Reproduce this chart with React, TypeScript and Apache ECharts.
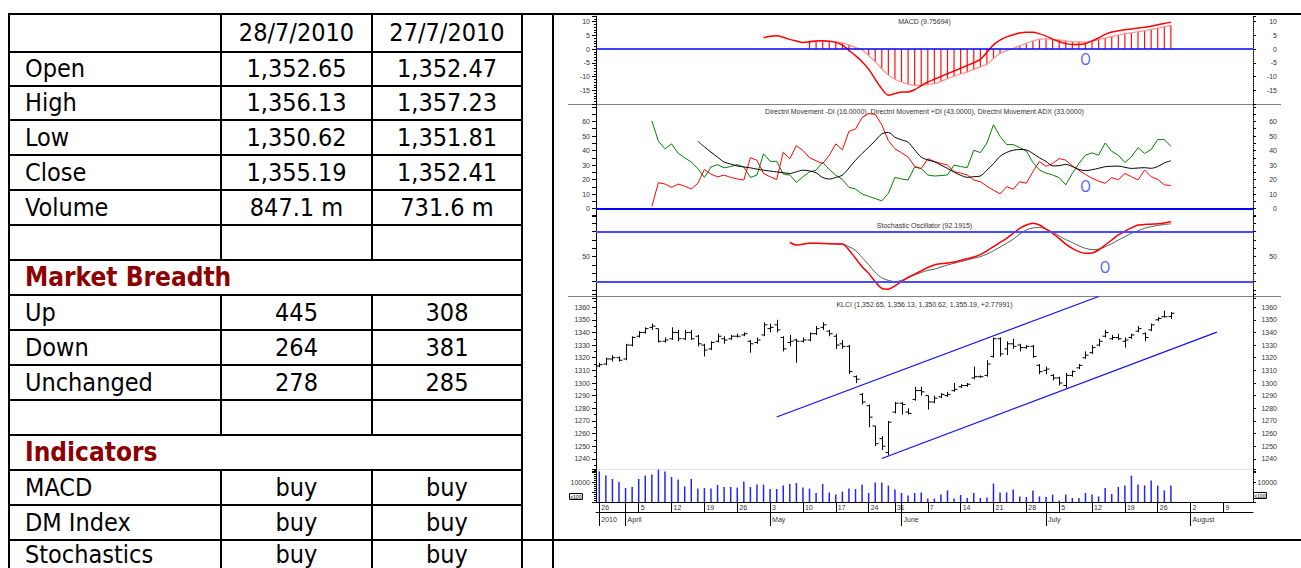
import React, { useEffect, useRef } from "react";
import * as echarts from "echarts";

// ---------- trading days (category axis) ----------
const DATES = [
  "3/26", "3/29", "3/30", "3/31",
  "4/1", "4/2", "4/5", "4/6", "4/7", "4/8", "4/9", "4/12", "4/13", "4/14", "4/15", "4/16", "4/19", "4/20", "4/21", "4/22", "4/23", "4/26", "4/27", "4/28", "4/29", "4/30",
  "5/3", "5/4", "5/5", "5/6", "5/7", "5/10", "5/11", "5/12", "5/13", "5/14", "5/17", "5/18", "5/19", "5/20", "5/21", "5/24", "5/25", "5/26", "5/27", "5/31",
  "6/1", "6/2", "6/3", "6/4", "6/7", "6/8", "6/9", "6/10", "6/11", "6/14", "6/15", "6/16", "6/17", "6/18", "6/21", "6/22", "6/23", "6/24", "6/25", "6/28", "6/29", "6/30",
  "7/1", "7/2", "7/5", "7/6", "7/7", "7/8", "7/9", "7/12", "7/13", "7/14", "7/15", "7/16", "7/19", "7/20", "7/21", "7/22", "7/23", "7/26", "7/27", "7/28", "7/29", "7/30",
  "8/2", "8/3", "8/4", "8/5", "8/6", "8/9", "8/10", "8/11", "8/12", "8/13",
];
const YEAR_LABEL = "2010";
const MONTH_NAMES: Record<number, string> = { 3: "March", 4: "April", 5: "May", 6: "June", 7: "July", 8: "August" };

// ---------- KLCI OHLC ----------
const OPEN = [1313.5, 1315, 1319, 1320, 1319, 1330, 1337, 1340, 1344, 1343, 1333, 1335, 1340, 1335, 1340, 1337, 1330, 1327, 1333, 1335, 1335, 1337, 1338, 1333, 1332, 1338, 1343, 1346, 1336, 1332, 1334, 1333, 1334, 1339, 1344, 1341, 1337, 1331, 1329, 1305, 1291, 1282, 1266, 1256, 1245, 1277, 1284, 1277, 1287, 1294, 1290, 1285, 1289, 1290, 1294, 1297, 1298, 1304, 1305, 1306, 1321, 1335, 1327, 1331, 1330, 1328, 1329, 1314, 1310, 1306, 1304, 1298, 1306, 1312, 1320, 1324, 1330, 1337, 1335, 1336, 1333, 1336, 1341, 1339, 1342, 1350, 1352.47, 1352.65];
const HIGH = [1316, 1320, 1322, 1321, 1331, 1337, 1341, 1344, 1347, 1343, 1336, 1344, 1342, 1342, 1342, 1338, 1331, 1333, 1339, 1337, 1338, 1339, 1340, 1334, 1336, 1348, 1347, 1350, 1337, 1338, 1335, 1336, 1340, 1345, 1348, 1342, 1339, 1334, 1330, 1306, 1292, 1283, 1266, 1258, 1270, 1285, 1285, 1280, 1297, 1297, 1290, 1290, 1292, 1293, 1300, 1299, 1300, 1313, 1306, 1318, 1336, 1336, 1333, 1335, 1331, 1330, 1330, 1315, 1313, 1307, 1305, 1308, 1310, 1315, 1325, 1330, 1335, 1342, 1338, 1339, 1336, 1339, 1345, 1340, 1347, 1352, 1357.23, 1356.13];
const LOW = [1312.5, 1314, 1317, 1317, 1318, 1329, 1336, 1339, 1342, 1332, 1332, 1334, 1333, 1334, 1334, 1329, 1321, 1326, 1332, 1331, 1334, 1336, 1337, 1324, 1331, 1337, 1340, 1340, 1325, 1329, 1316, 1332, 1333, 1338, 1342, 1337, 1327, 1327, 1307, 1300, 1283, 1265, 1250, 1247, 1243, 1276, 1275, 1275, 1286, 1290, 1279, 1284, 1288, 1289, 1293, 1296, 1297, 1303, 1304, 1305, 1320, 1321, 1322, 1327, 1325, 1327, 1320, 1307, 1307, 1302, 1298, 1296, 1305, 1311, 1319, 1323, 1329, 1336, 1334, 1334, 1328, 1335, 1340, 1333, 1341, 1349, 1351.81, 1350.62];
const CLOSE = [1314.5, 1319, 1320, 1318, 1330, 1336, 1340, 1343, 1345, 1333, 1334, 1340, 1335, 1340, 1335, 1331, 1326, 1332, 1337, 1334, 1337, 1337, 1339, 1331, 1334, 1346, 1344, 1342, 1327, 1333, 1333, 1334, 1339, 1343, 1346, 1339, 1330, 1329, 1309, 1303, 1285, 1273, 1252, 1250, 1269, 1284, 1283, 1276, 1294, 1293, 1285, 1288, 1291, 1291, 1295, 1298, 1299, 1305, 1305, 1315, 1335, 1323, 1331, 1329, 1328, 1329, 1321, 1309, 1311, 1304, 1300, 1306, 1309, 1314, 1322, 1328, 1333, 1340, 1336, 1335, 1334, 1338, 1343, 1336, 1346, 1351, 1352.41, 1355.19];
const VOLUME = [15300, 13300, 11500, 10000, 7000, 7500, 11500, 13200, 13700, 16200, 15300, 12500, 11200, 7800, 11500, 6700, 7000, 6700, 8500, 7500, 7500, 7200, 10200, 7500, 8800, 8700, 6500, 6500, 8300, 9000, 9500, 7200, 6700, 4500, 9000, 4800, 3800, 5200, 6700, 6500, 8700, 4500, 9700, 9700, 8200, 6200, 4500, 3200, 4500, 4800, 1700, 1700, 3700, 5800, 1700, 3500, 2000, 4500, 2000, 2200, 9200, 4800, 4800, 6200, 2800, 2500, 5800, 2800, 2500, 3700, 800, 3700, 2000, 2000, 4500, 3700, 2800, 7000, 4000, 7500, 8200, 13200, 8700, 8300, 10700, 8200, 5800, 8200];

// ---------- MACD ----------
const MACD_START = 25;
const MACD_LINE = [4.1, 4.6, 4.8, 4.3, 3.5, 2.9, 2.4, 2.6, 2.9, 3.0, 2.8, 2.4, 1.4, -0.5, -2.4, -4.6, -7.3, -11, -14.5, -16.8, -16.2, -15.6, -15.6, -14.8, -13.3, -12, -11, -10, -9, -8, -7, -6, -5, -3.8, -1.2, 1.5, 3.2, 4.4, 5.2, 5.8, 6.1, 6.1, 5.5, 4.7, 3.6, 2.7, 2.0, 1.6, 1.6, 2.0, 2.9, 4.0, 5.3, 6.2, 6.6, 7.0, 7.3, 7.6, 7.9, 8.3, 8.8, 9.3, 9.76];
const SIGNAL_START = 32;
const MACD_SIGNAL = [3.0, 3.0, 2.9, 2.8, 2.7, 2.2, 1.5, 0.6, -0.4, -2.4, -4.6, -7.2, -9.5, -11, -12, -12.8, -13.2, -13.2, -13, -12.6, -11.8, -10.8, -9.9, -9.1, -8.4, -7.4, -6.5, -5.5, -3.5, -1.6, -0.6, 0.2, 1.2, 2.1, 2.9, 3.6, 3.7, 3.5, 3.3, 3.0, 2.7, 2.6, 2.5, 2.8, 3.4, 4.0, 4.5, 5.1, 5.6, 5.9, 6.3, 6.7, 7.1, 7.6, 8.1, 8.6];

// ---------- Directional movement ----------
const DI_START = 8;
const PLUS_DI = [60.4, 46.4, 41.2, 44.6, 38.2, 35, 32.1, 27.6, 21.5, 28.7, 30.3, 28.1, 29, 30.3, 28.7, 21.5, 23.1, 37.8, 32.6, 32.6, 23.8, 23.1, 18.1, 22, 25.3, 26.5, 32.1, 27, 23.1, 20.1, 14.7, 13.6, 10.2, 8.5, 7, 5.4, 10.6, 21.5, 20.5, 19.7, 28.7, 27.6, 23.2, 22.5, 22.8, 23.2, 30, 29, 28.2, 40.2, 38.6, 45.2, 57.7, 49.8, 44.1, 44.1, 42, 39.8, 31.8, 26.6, 24.5, 23.2, 21.4, 16.4, 24.3, 31.1, 36.8, 38.4, 36.8, 45.2, 39.5, 36.8, 31.8, 35.7, 42, 38, 40.7, 47.5, 47.5, 43];
const MINUS_DI = [1.6, 17.9, 17, 14.7, 17, 15.5, 13.6, 17.4, 26.9, 23.8, 21.9, 23.1, 21.5, 20.5, 19.7, 35.1, 33.3, 24.2, 22, 20.1, 38.9, 34.4, 43.4, 40, 35.1, 33, 31, 36.7, 44.6, 40.5, 53.2, 54.8, 62.7, 65.4, 64.9, 57.7, 46.8, 41.2, 38.5, 35.5, 29.2, 27.6, 34.4, 32.5, 31.1, 30, 25.5, 24.5, 23.2, 19.8, 18.6, 15.5, 12.8, 10.2, 15.2, 13.4, 18.6, 17.5, 25.5, 32.5, 29.1, 31.1, 34.5, 33.4, 29.5, 26.6, 23.5, 21, 19, 17.5, 21.4, 19.8, 24.3, 22, 19.8, 26.6, 22, 20.2, 16.4, 16];
const ADX_START = 15;
const ADX = [46.4, 42.5, 38.9, 35.5, 32.1, 30.7, 29.4, 28.7, 28.1, 27.2, 26.5, 25.9, 25.3, 24.8, 24.2, 25.4, 26.5, 26, 24.7, 21.5, 20.4, 21.5, 23.1, 28, 33.3, 38, 42.3, 46.8, 51.4, 52.5, 49.1, 47.4, 45.7, 40.5, 35.5, 33.5, 32.3, 30, 27.7, 25.2, 23, 21.6, 22, 22.5, 26.5, 31, 36, 38.7, 40.2, 40.7, 40.4, 38, 35, 32.5, 29.5, 29.6, 30.5, 29, 27, 26.2, 26.8, 27.8, 28.9, 29.2, 29.3, 28.5, 27.7, 28, 28.2, 27.8, 29, 31.5, 33];

// ---------- Stochastic ----------
const K_START = 29;
const STOCH_K = [67.3, 64, 65, 66, 66, 65.8, 65.5, 65.3, 65.2, 58, 48, 38, 30, 20, 12, 11, 15, 20, 25, 29, 33, 37, 40, 41.5, 42.5, 43.5, 45.5, 47.5, 49.5, 52.5, 57, 62, 67, 72, 78, 84, 88, 90, 88, 83, 78, 72, 65, 60, 56, 54, 54.5, 58, 64, 70, 76, 80.5, 84.5, 88, 88.5, 89, 89.5, 90.5, 92.19];
const D_START = 31;
const STOCH_D = [65.5, 66, 66, 65.8, 65.6, 65.4, 65.2, 62, 57.5, 49, 40.5, 31, 24.5, 21.5, 20, 21.5, 24.5, 28, 31, 33.5, 35, 37.5, 40, 42, 44, 46, 48, 50, 53, 57, 61.5, 66, 71, 77, 82, 84.5, 85, 83, 79.5, 75, 70.5, 67, 63, 60, 58.5, 59, 62, 65.5, 70, 74, 78, 81, 84, 86, 87.5, 88.5, 89.5];
const STOCH_BANDS = [80, 20];

// ---------- trend channel & marks ----------
const UPPER_CHANNEL = [[27, 1273.1], [76, 1368.4]];
const LOWER_CHANNEL = [[43, 1240.3], [94, 1340.2]];
const MACD_MARK = [[74, -4]];
const DMI_MARK = [[74, 14.7]];
const STOCH_MARK = [[77, 36]];

// ---------- panel captions ----------
const TITLE_MACD = "MACD (9.75694)";
const TITLE_DMI = "Directnl Movement -DI (16.0000), Directnl Movement +DI (43.0000), Directnl Movement ADX (33.0000)";
const TITLE_STOCH = "Stochastic Oscillator (92.1915)";
const TITLE_KLCI = "KLCI (1,352.65, 1,356.13, 1,350.62, 1,355.19, +2.77991)";

// ---------- table ----------
const TABLE_HEAD = ["", "28/7/2010", "27/7/2010"];
const PRICE_ROWS = [
  ["Open", "1,352.65", "1,352.47"],
  ["High", "1,356.13", "1,357.23"],
  ["Low", "1,350.62", "1,351.81"],
  ["Close", "1,355.19", "1,352.41"],
  ["Volume", "847.1 m", "731.6 m"],
];
const BREADTH_TITLE = "Market Breadth";
const BREADTH_ROWS = [
  ["Up", "445", "308"],
  ["Down", "264", "381"],
  ["Unchanged", "278", "285"],
];
const INDICATOR_TITLE = "Indicators";
const INDICATOR_ROWS = [
  ["MACD", "buy", "buy"],
  ["DM Index", "buy", "buy"],
  ["Stochastics", "buy", "buy"],
];

// ---------- layout ----------
const W = 1301;
const H = 568;
const ROW_Y = [14, 52, 86, 120, 155, 190, 225, 260, 295, 330, 365, 400, 435, 470, 505, 540, 575];
const COL_X = [9, 221, 372, 522, 553];
const TABLE_FONT = "'DejaVu Sans Condensed', 'DejaVu Sans', sans-serif";
const SMALL_FONT = "'Liberation Sans', Arial, sans-serif";
const GRID_LEFT = 596;
const GRID_RIGHT = W - 1253;

const parseMD = (s: string) => s.split("/").map(Number);
const isMonday = (i: number) => {
  const [m, d] = parseMD(DATES[i]);
  return new Date(2010, m - 1, d).getDay() === 1;
};
const isMonthStart = (i: number) => i === 0 || parseMD(DATES[i])[0] !== parseMD(DATES[i - 1])[0];
// weekly marks: the first day, then every Monday that is not crowded against it
const isWeekMark = (i: number) => i === 0 || (isMonday(i) && i >= 3);
const seq = (start: number, arr: number[]) => arr.map((v, k) => [start + k, v]);

function buildTable(): any[] {
  const els: any[] = [];
  const line = (x1: number, y1: number, x2: number, y2: number) =>
    els.push({ type: "line", silent: true, shape: { x1, y1, x2, y2 }, style: { stroke: "#000", lineWidth: 2 } });
  for (let r = 0; r <= 15; r++) line(COL_X[0] - 1, ROW_Y[r], COL_X[3], ROW_Y[r]);
  line(COL_X[3], ROW_Y[0], W, ROW_Y[0]);
  line(COL_X[3], ROW_Y[15], W, ROW_Y[15]);
  [COL_X[0], COL_X[3], COL_X[4]].forEach((x) => line(x, ROW_Y[0] - 1, x, H));
  [COL_X[1], COL_X[2]].forEach((x) => {
    line(x, ROW_Y[0], x, ROW_Y[7]);
    line(x, ROW_Y[8], x, ROW_Y[12]);
    line(x, ROW_Y[13], x, H);
  });
  const rowMid = (row: number) => (row === 15 ? 554 : (ROW_Y[row] + ROW_Y[row + 1]) / 2 - 0.5);
  const txt = (text: string, x: number, row: number, align: string, bold = false, color = "#000") =>
    els.push({
      type: "text",
      silent: true,
      x,
      y: rowMid(row),
      style: {
        text,
        fill: color,
        fontSize: bold ? 26 : 25,
        fontFamily: TABLE_FONT,
        fontWeight: bold ? "bold" : "normal",
        align,
        verticalAlign: "middle",
      },
    });
  const c1 = (COL_X[1] + COL_X[2]) / 2;
  const c2 = (COL_X[2] + COL_X[3]) / 2;
  const putRow = (row: number, vals: string[]) => {
    if (vals[0]) txt(vals[0], 25, row, "left");
    txt(vals[1], c1, row, "center");
    txt(vals[2], c2, row, "center");
  };
  putRow(0, TABLE_HEAD);
  PRICE_ROWS.forEach((r, k) => putRow(1 + k, r));
  txt(BREADTH_TITLE, 25, 7, "left", true, "#8c0000");
  BREADTH_ROWS.forEach((r, k) => putRow(8 + k, r));
  txt(INDICATOR_TITLE, 25, 12, "left", true, "#8c0000");
  INDICATOR_ROWS.forEach((r, k) => putRow(13 + k, r));
  return els;
}

function buildChartDecor(): any[] {
  const center = (GRID_LEFT + (W - GRID_RIGHT)) / 2;
  const cap = (text: string, y: number) => ({
    type: "text",
    silent: true,
    x: center,
    y,
    style: { text, fill: "#333", fontSize: 7, fontFamily: SMALL_FONT, align: "center", verticalAlign: "middle" },
  });
  const sep = (y: number, x1: number, x2: number, color: string) => ({
    type: "line",
    silent: true,
    shape: { x1, y1: y, x2, y2: y },
    style: { stroke: color, lineWidth: 1 },
  });
  const box = (x: number, y: number) => ({
    type: "text",
    silent: true,
    x,
    y,
    style: {
      text: "x100",
      fill: "#000",
      fontSize: 5,
      fontFamily: SMALL_FONT,
      align: "center",
      verticalAlign: "middle",
      borderColor: "#000",
      borderWidth: 1,
      padding: [1, 1, 0, 1],
    },
  });
  return [
    sep(104.5, 568, 1281, "#808080"),
    sep(296.5, 568, 1281, "#808080"),
    sep(469.5, GRID_LEFT, W - GRID_RIGHT, "#e2e2e2"),
    cap(TITLE_MACD, 21.5),
    cap(TITLE_DMI, 111),
    cap(TITLE_STOCH, 225),
    cap(TITLE_KLCI, 304),
    box(576, 496.5),
    box(1260, 495.5),
  ];
}

const LBL = { fontSize: 7, fontFamily: SMALL_FONT, color: "#333" };

function yPair(gridIndex: number, min: number, max: number, interval: number, show: (v: number) => boolean, minor: number) {
  const fmt = (v: number) => {
    const r = Math.round(v * 1000) / 1000;
    return show(r) ? String(r) : "";
  };
  const base = { type: "value", gridIndex, min, max, interval, splitLine: { show: false } };
  return [
    {
      ...base,
      position: "left",
      axisLine: { show: true, onZero: false, lineStyle: { color: "#000", width: 1 } },
      axisTick: { show: true, length: 4, lineStyle: { color: "#000" } },
      minorTick: { show: minor > 0, splitNumber: minor || 5, length: 2, lineStyle: { color: "#000" } },
      axisLabel: { ...LBL, margin: 6, formatter: fmt },
    },
    {
      ...base,
      position: "right",
      axisLine: { show: true, onZero: false, lineStyle: { color: "#000", width: 1, type: "dotted" } },
      axisTick: { show: true, length: 3, lineStyle: { color: "#000" } },
      axisLabel: { ...LBL, margin: 24, align: "right", formatter: fmt },
    },
  ];
}

function markText(g: number, data: number[][]) {
  return {
    type: "scatter",
    xAxisIndex: g,
    yAxisIndex: g * 2,
    data,
    symbolSize: 1,
    itemStyle: { color: "rgba(0,0,0,0)" },
    label: { show: true, position: "inside", formatter: "O", color: "#1f3cff", fontSize: 15, fontFamily: TABLE_FONT },
    z: 10,
  };
}

function hLines(values: number[], color: string, width: number) {
  return {
    silent: true,
    symbol: "none",
    label: { show: false },
    lineStyle: { color, width, type: "solid" },
    data: values.map((v) => ({ yAxis: v })),
  };
}

function buildOption(): any {
  const grids = [
    { top: 16, height: 88 },
    { top: 104, height: 112 },
    { top: 215, height: 83.3 },
    { top: 294.5, height: 177 },
    { top: 469, height: 33 },
  ].map((g) => ({ ...g, left: GRID_LEFT, right: GRID_RIGHT, containLabel: false, outerBoundsMode: "none" }));

  const xHidden = (g: number) => ({ type: "category", gridIndex: g, data: DATES, boundaryGap: true, show: false });
  const xDays = {
    type: "category",
    gridIndex: 4,
    data: DATES,
    boundaryGap: true,
    position: "bottom",
    axisLine: { show: true, onZero: false, lineStyle: { color: "#000", width: 1 } },
    axisTick: {
      show: true,
      alignWithLabel: true,
      length: 10,
      interval: (i: number) => isWeekMark(i) || isMonthStart(i),
      lineStyle: { color: "#000" },
    },
    axisLabel: {
      ...LBL,
      margin: 2,
      align: "left",
      padding: [0, 0, 0, 2],
      showMinLabel: true,
      interval: (i: number) => isWeekMark(i),
      formatter: (v: string) => String(parseMD(v)[1]),
    },
  };
  const xMonths = {
    type: "category",
    gridIndex: 4,
    data: DATES,
    boundaryGap: true,
    position: "bottom",
    offset: 10,
    axisLine: { show: true, onZero: false, lineStyle: { color: "#000", width: 1 } },
    axisTick: { show: true, alignWithLabel: true, length: 14, interval: (i: number) => isMonthStart(i), lineStyle: { color: "#000" } },
    axisLabel: {
      ...LBL,
      margin: 4,
      align: "left",
      padding: [0, 0, 0, 2],
      showMinLabel: true,
      interval: (i: number) => isMonthStart(i),
      formatter: (v: string, i: number) => (i === 0 ? YEAR_LABEL : MONTH_NAMES[parseMD(v)[0]]),
    },
  };

  const yAxis = [
    ...yPair(0, -20, 12, 5, (v) => v >= -15 && v <= 10, 5),
    ...yPair(1, -5, 72, 5, (v) => v >= 0 && v <= 60 && v % 10 === 0, 0),
    ...yPair(2, 0, 100, 10, (v) => v === 50, 0),
    ...yPair(3, 1230, 1370, 10, (v) => v >= 1240 && v <= 1360, 2),
    ...yPair(4, 0, 16500, 5000, (v) => v === 10000, 5),
  ];

  const ohlc = OPEN.map((o, i) => [i, o, HIGH[i], LOW[i], CLOSE[i]]);

  const series: any[] = [
    {
      type: "bar",
      xAxisIndex: 0,
      yAxisIndex: 0,
      data: seq(SIGNAL_START, MACD_SIGNAL),
      barWidth: 1.2,
      itemStyle: { color: "#ff1010" },
      markLine: hLines([0], "#0000ff", 1.5),
    },
    {
      type: "line",
      xAxisIndex: 0,
      yAxisIndex: 0,
      data: seq(SIGNAL_START, MACD_SIGNAL),
      smooth: 0.3,
      symbol: "none",
      lineStyle: { color: "#ff9090", width: 1.2 },
    },
    {
      type: "line",
      xAxisIndex: 0,
      yAxisIndex: 0,
      data: seq(MACD_START, MACD_LINE),
      smooth: 0.3,
      symbol: "none",
      lineStyle: { color: "#ff0000", width: 1.5 },
    },
    markText(0, MACD_MARK),
    {
      type: "line",
      xAxisIndex: 1,
      yAxisIndex: 2,
      data: seq(DI_START, PLUS_DI),
      symbol: "none",
      lineStyle: { color: "#008000", width: 1 },
      markLine: hLines([0], "#0000ff", 2),
    },
    {
      type: "line",
      xAxisIndex: 1,
      yAxisIndex: 2,
      data: seq(DI_START, MINUS_DI),
      symbol: "none",
      lineStyle: { color: "#ff0000", width: 1 },
    },
    {
      type: "line",
      xAxisIndex: 1,
      yAxisIndex: 2,
      data: seq(ADX_START, ADX),
      smooth: 0.3,
      symbol: "none",
      lineStyle: { color: "#000000", width: 1 },
    },
    markText(1, DMI_MARK),
    {
      type: "line",
      xAxisIndex: 2,
      yAxisIndex: 4,
      data: seq(D_START, STOCH_D),
      smooth: 0.3,
      symbol: "none",
      lineStyle: { color: "#5a5a5a", width: 1 },
      markLine: hLines(STOCH_BANDS, "#4a4aff", 2),
    },
    {
      type: "line",
      xAxisIndex: 2,
      yAxisIndex: 4,
      data: seq(K_START, STOCH_K),
      smooth: 0.3,
      symbol: "none",
      lineStyle: { color: "#ff0000", width: 1.5 },
    },
    markText(2, STOCH_MARK),
    {
      type: "custom",
      xAxisIndex: 3,
      yAxisIndex: 6,
      data: ohlc,
      encode: { x: 0, y: [1, 2, 3, 4] },
      clip: true,
      renderItem: (_params: any, api: any) => {
        const i = api.value(0);
        const o = api.coord([i, api.value(1)]);
        const h = api.coord([i, api.value(2)]);
        const l = api.coord([i, api.value(3)]);
        const c = api.coord([i, api.value(4)]);
        const x = Math.round(o[0]) + 0.5;
        const style = { stroke: "#000", lineWidth: 1, fill: null };
        return {
          type: "group",
          children: [
            { type: "line", shape: { x1: x, y1: h[1], x2: x, y2: l[1] }, style },
            { type: "line", shape: { x1: x - 3, y1: o[1], x2: x, y2: o[1] }, style },
            { type: "line", shape: { x1: x, y1: c[1], x2: x + 3, y2: c[1] }, style },
          ],
        };
      },
    },
    {
      type: "line",
      xAxisIndex: 3,
      yAxisIndex: 6,
      data: UPPER_CHANNEL,
      symbol: "none",
      lineStyle: { color: "#1010ff", width: 1.2 },
    },
    {
      type: "line",
      xAxisIndex: 3,
      yAxisIndex: 6,
      data: LOWER_CHANNEL,
      symbol: "none",
      lineStyle: { color: "#1010ff", width: 1.2 },
    },
    {
      type: "bar",
      xAxisIndex: 4,
      yAxisIndex: 8,
      data: VOLUME.map((v, i) => [i, v]),
      barWidth: 1.5,
      itemStyle: { color: "#2323ff" },
    },
  ];

  return {
    animation: false,
    backgroundColor: "#ffffff",
    grid: grids,
    xAxis: [xHidden(0), xHidden(1), xHidden(2), xHidden(3), xDays, xMonths],
    yAxis,
    series,
    graphic: [...buildTable(), ...buildChartDecor()],
  };
}

export default function App() {
  const ref = useRef<HTMLDivElement>(null);
  useEffect(() => {
    if (!ref.current) return;
    const chart = echarts.init(ref.current, null, { renderer: "svg" });
    chart.setOption(buildOption());
    return () => chart.dispose();
  }, []);
  return (
    <div
      ref={ref}
      style={{ position: "absolute", left: 0, top: 0, width: W, height: H, background: "#fff" }}
    />
  );
}
